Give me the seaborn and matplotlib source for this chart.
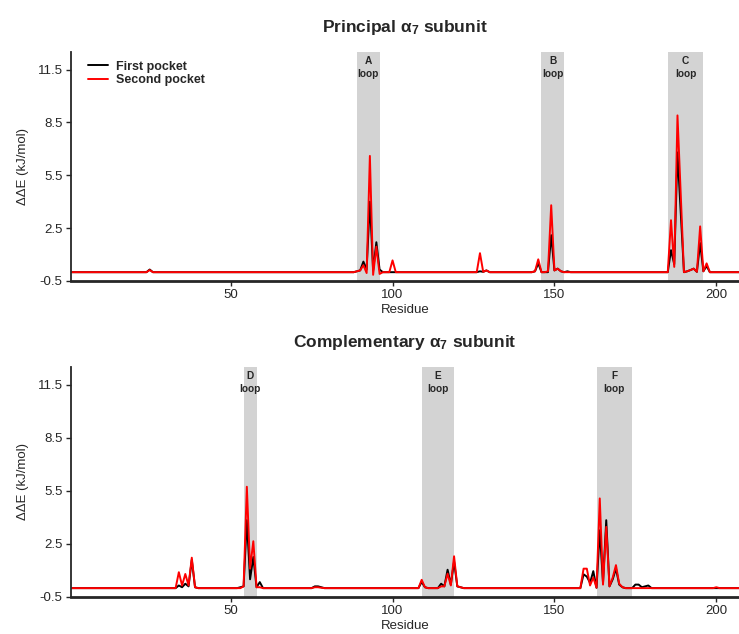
import numpy as np
import pandas as pd
import seaborn as sns
import matplotlib
matplotlib.use('Agg')
import matplotlib.pyplot as plt

# residue axis shared by both subunits
residues = np.arange(1, 211)

# principal subunit: residues with a non-zero contribution
principal_res = [25, 89, 90, 91, 92, 93, 94, 95, 96, 100, 127, 128, 129, 144, 145,
                 148, 149, 150, 151, 152, 154, 186, 187, 188, 189, 191, 192, 193,
                 194, 195, 196, 197]
principal_first = [0.15, 0.05, 0.1, 0.6, 0.15, 4.0, 0.1, 1.7, 0.15, 0.0, 0.05, 0.02, 0.1, 0.05, 0.5,
                   0.0, 2.1, 0.1, 0.2, 0.05, 0.05, 1.25, 0.45, 6.8, 3.4, 0.05, 0.12, 0.2,
                   0.02, 1.65, 0.05, 0.35]
principal_second = [0.12, 0.05, 0.1, 0.4, -0.05, 6.6, -0.15, 1.45, -0.1, 0.67, 1.08, 0.02, 0.1, 0.05, 0.73,
                    0.05, 3.8, 0.1, 0.2, 0.05, 0.0, 2.95, 0.3, 8.9, 4.4, 0.05, 0.12, 0.2,
                    0.02, 2.6, 0.05, 0.5]

# complementary subunit
comp_res = [34, 35, 36, 37, 38, 39, 53, 54, 55, 56, 57, 58, 59, 76, 77, 78,
            109, 110, 115, 116, 117, 118, 119, 120, 121,
            159, 160, 161, 162, 163, 164, 165, 166, 167, 168, 169, 170, 171,
            175, 176, 177, 178, 179, 200]
comp_first = [0.15, 0.05, 0.25, 0.1, 1.6, 0.05, 0.05, 0.1, 3.84, 0.5, 1.76, 0.05, 0.34, 0.1, 0.1, 0.05,
              0.35, 0.05, 0.25, 0.1, 1.04, 0.2, 1.5, 0.1, 0.05,
              0.78, 0.65, 0.3, 0.96, 0.02, 3.27, 0.3, 3.84, 0.1, 0.5, 1.1, 0.2, 0.05,
              0.2, 0.2, 0.05, 0.1, 0.15, 0.0]
comp_second = [0.9, 0.15, 0.8, 0.15, 1.72, 0.05, 0.0, 0.1, 5.73, 1.1, 2.65, 0.05, 0.05, 0.05, 0.05, 0.02,
               0.47, 0.05, 0.1, 0.1, 0.82, 0.15, 1.8, 0.1, 0.05,
               1.1, 1.1, 0.15, 0.6, 0.02, 5.07, 0.2, 3.46, 0.1, 0.6, 1.3, 0.25, 0.05,
               0.0, 0.0, 0.0, 0.0, 0.0, 0.05]

principal_loops = ['A', 'B', 'C']
principal_spans = [(89, 96), (146, 153), (185, 196)]
comp_loops = ['D', 'E', 'F']
comp_spans = [(54, 58), (109, 119), (163, 174)]

pockets = ['First pocket', 'Second pocket']
colors = {'First pocket': 'black', 'Second pocket': '#ff0000'}

sns.set_style('ticks')
plt.rcParams['font.family'] = ['Liberation Sans', 'DejaVu Sans']
plt.rcParams['mathtext.fontset'] = 'custom'
plt.rcParams['mathtext.rm'] = 'Liberation Sans:bold'
plt.rcParams['axes.unicode_minus'] = False


def build_df(res, first, second):
    frames = []
    for name, vals in zip(pockets, [first, second]):
        y = np.zeros(len(residues))
        y[np.searchsorted(residues, res)] = vals  # fill the non-zero residues
        frames.append(pd.DataFrame({'Residue': residues, 'dE': y, 'Pocket': name}))
    return pd.concat(frames, ignore_index=True)


def draw_panel(ax, df, loops, spans, title, legend):
    for name, (a, b) in zip(loops, spans):
        ax.axvspan(a, b, color='#d3d3d3', lw=0, zorder=0)
        ax.text((a + b) / 2, 12.25, f"{name}\nloop", ha='center', va='top',
                fontsize=7.3, fontweight='bold', linespacing=1.3)
    sns.lineplot(data=df, x='Residue', y='dE', hue='Pocket', palette=colors,
                 hue_order=pockets, lw=1.4, errorbar=None, legend=legend, ax=ax)
    ax.set_xlim(0.7, 207)
    ax.set_ylim(-0.5, 12.5)
    ax.set_xticks([50, 100, 150, 200])
    ax.set_yticks([-0.5, 2.5, 5.5, 8.5, 11.5])
    ax.tick_params(labelsize=9.5, length=3.6, width=1, pad=2.5)
    ax.set_xlabel('Residue', fontsize=9.5, labelpad=2)
    ax.set_ylabel('ΔΔE (kJ/mol)', fontsize=9.5, labelpad=6)
    ax.set_title(title, fontsize=12.5, fontweight='bold', pad=14.5)
    for s in ['top', 'right']:
        ax.spines[s].set_visible(False)
    ax.spines['left'].set_linewidth(1.3)
    ax.spines['bottom'].set_linewidth(2.0)
    if legend:
        ax.legend(loc='upper left', bbox_to_anchor=(0.025, 0.962), frameon=False,
                  borderpad=0, borderaxespad=0, labelspacing=0.1, handlelength=1.6,
                  handletextpad=0.7, prop={'weight': 'bold', 'size': 9})


fig = plt.figure(figsize=(7.39, 6.34), dpi=100)
ax1 = fig.add_axes([0.0961, 0.5568, 0.9039, 0.3612])
ax2 = fig.add_axes([0.0961, 0.0584, 0.9039, 0.3628])

draw_panel(ax1, build_df(principal_res, principal_first, principal_second),
           principal_loops, principal_spans, r'Principal $\mathrm{\alpha_7}$ subunit', True)
draw_panel(ax2, build_df(comp_res, comp_first, comp_second),
           comp_loops, comp_spans, r'Complementary $\mathrm{\alpha_7}$ subunit', False)

fig.savefig('out.png', dpi=100)
